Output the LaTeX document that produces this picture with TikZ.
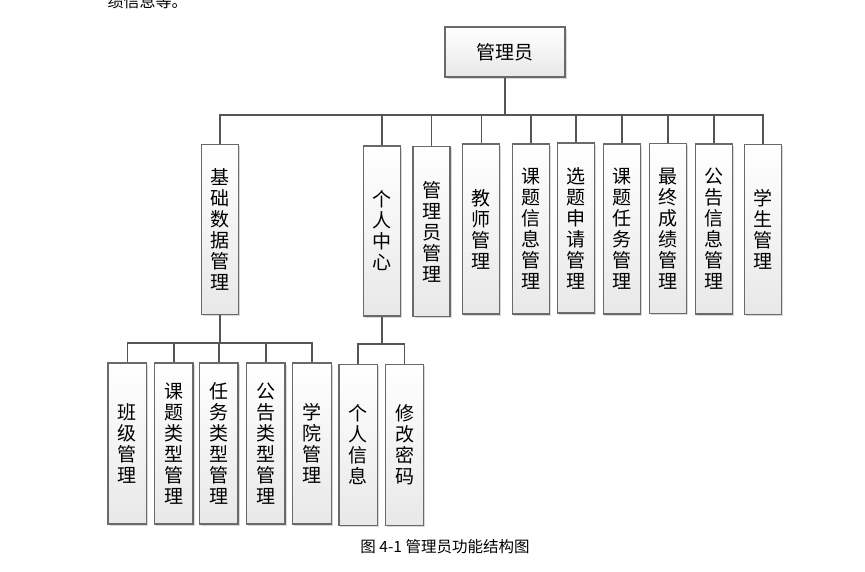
\documentclass[tikz,border=0pt]{standalone}
\usepackage{fontspec}
\setmainfont{Noto Sans CJK SC}
\usepackage{xcolor}
\usepackage{tikz}
\usetikzlibrary{shadows}
\definecolor{edgegray}{HTML}{555555}
\definecolor{boxline}{HTML}{6A6A6A}

\begin{document}
\begin{tikzpicture}[x=1pt,y=-1pt,
  box/.style={draw=boxline,line width=1.2pt,top color=white,bottom color=black!9,
    drop shadow={shadow xshift=1.5pt,shadow yshift=-1.5pt,fill=black!30,opacity=0.5},
    inner sep=0pt,align=center,font=\fontsize{19}{21}\selectfont},
  col/.style={box,minimum width=37pt,minimum height=170pt},
  sub/.style={box,minimum width=38.5pt,minimum height=161pt},
  link/.style={draw=edgegray,line width=1.6pt},
]
\useasboundingbox (0,0) rectangle (865,571);

% text of the page round the figure
\node[anchor=west,font=\fontsize{16}{16}\selectfont] (above) at (104,1) {绩信息等。};

% root
\node[box,minimum width=120pt,minimum height=50pt] (root) at (505,52) {管理员};
\coordinate (bus) at (505,115);

% row 1
\node[col] (jc)   at (220,229.5)   {基\\础\\数\\据\\管\\理};
\node[col] (grzx) at (382,231)     {个\\人\\中\\心};
\node[col] (glyg) at (431.5,231.5) {管\\理\\员\\管\\理};
\node[col] (jsgl) at (481.3,229)   {教\\师\\管\\理};
\node[col] (ktxx) at (531,229)     {课\\题\\信\\息\\管\\理};
\node[col] (xtsq) at (575.8,228)   {选\\题\\申\\请\\管\\理};
\node[col] (ktrw) at (622,229)     {课\\题\\任\\务\\管\\理};
\node[col] (zzcj) at (668,228.5)   {最\\终\\成\\绩\\管\\理};
\node[col] (ggxx) at (714.2,229)   {公\\告\\信\\息\\管\\理};
\node[col] (xsgl) at (763,229.5)   {学\\生\\管\\理};
\foreach \c in {jc,grzx,glyg,jsgl,ktxx,xtsq,ktrw,zzcj,ggxx,xsgl}
  \draw[link] (root.south) -- (bus) -| (\c.north);

% row 2: basic data
\coordinate (busjc) at (220,343);
\node[sub] (bj)   at (127.3,443.5) {班\\级\\管\\理};
\node[sub] (ktlx) at (173.8,443.5) {课\\题\\类\\型\\管\\理};
\node[sub] (rwlx) at (218.8,443.5) {任\\务\\类\\型\\管\\理};
\node[sub] (gglx) at (265.8,443.5) {公\\告\\类\\型\\管\\理};
\node[sub] (xy)   at (312,443.5)   {学\\院\\管\\理};
\foreach \c in {bj,ktlx,rwlx,gglx,xy}
  \draw[link] (jc.south) -- (busjc) -| (\c.north);

% row 2: personal centre
\coordinate (busgr) at (382,344);
\node[sub] (grxx) at (358.2,445) {个\\人\\信\\息};
\node[sub] (xgmm) at (404.5,445) {修\\改\\密\\码};
\foreach \c in {grxx,xgmm}
  \draw[link] (grzx.south) -- (busgr) -| (\c.north);

% caption
\node[font=\fontsize{15.5}{16}\selectfont] (cap) at (445,547) {图 4-1 管理员功能结构图};
\end{tikzpicture}
\end{document}
